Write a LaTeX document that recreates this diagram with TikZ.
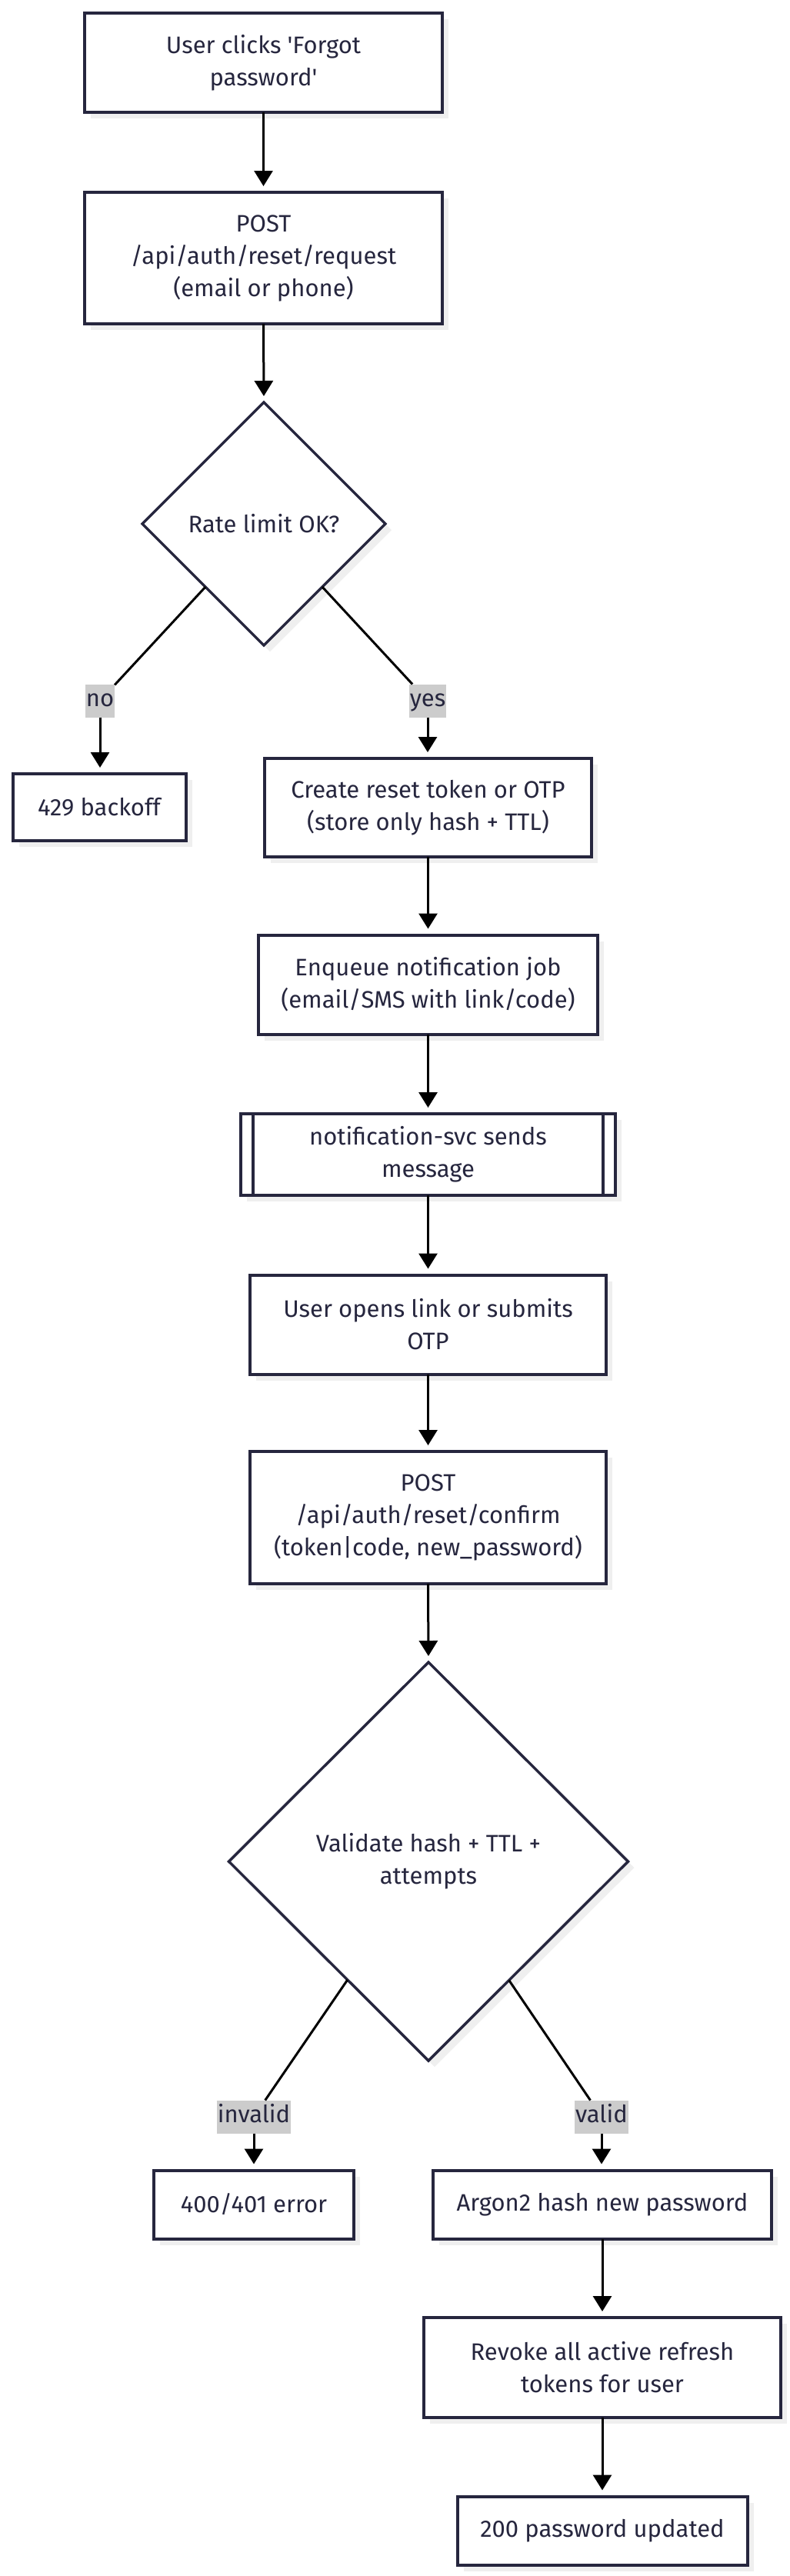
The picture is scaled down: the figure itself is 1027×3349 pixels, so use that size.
\documentclass[tikz,border=0pt]{standalone}
\usepackage{fontspec}
\setmainfont{Fira Sans}
\usetikzlibrary{shapes.geometric,arrows.meta,shadows}
\definecolor{ink}{RGB}{38,38,62}
\definecolor{lblc}{RGB}{204,204,204}
\definecolor{shd}{RGB}{239,239,239}
\tikzset{
  txt/.style={text=ink, font=\fontsize{31}{42}\selectfont, align=center},
  base/.style={txt, draw=ink, fill=white, inner sep=0pt, outer sep=0pt,
    drop shadow={shadow xshift=8pt, shadow yshift=-8pt, fill=shd, draw=none, opacity=1}},
  box/.style={base, rectangle, line width=4pt},
  dia/.style={base, diamond, line width=3.5pt},
  lbl/.style={txt, fill=lblc, inner xsep=1pt, inner ysep=0pt, outer sep=0pt,
    text height=22pt, text depth=7pt, minimum height=43pt},
  link/.style={draw=black, line width=3pt},
  arr/.style={link, -{Triangle[length=20pt,width=24pt]}, shorten >=8pt},
}
\begin{document}
\begin{tikzpicture}[x=1pt,y=-1pt]
\useasboundingbox (0,0) rectangle (1027,3349);

\node[box, minimum width=465pt, minimum height=129pt] (a) at (342.5,81.5) {User clicks \textquotesingle Forgot\\password\textquotesingle};
\node[box, minimum width=465pt, minimum height=171pt] (b) at (342.5,335.5) {POST\\/api/auth/reset/request\\(email or phone)};
\node[dia, minimum width=316pt, minimum height=316pt] (d1) at (343,681) {Rate limit OK?};
\node[box, minimum width=225pt, minimum height=87pt] (c) at (129,1049.5) {429 backoff};
\node[box, minimum width=425pt, minimum height=128pt] (e) at (556.5,1050) {Create reset token or OTP\\(store only hash + TTL)};
\node[box, minimum width=441pt, minimum height=129pt] (f) at (556.5,1280) {Enqueue notification job\\(email/SMS with link/code)};
\node[box, minimum width=487pt, minimum height=106pt] (g) at (556.5,1501) {notification-svc sends\\message};
\draw[ink, line width=4pt] ([xshift=16pt]g.north west) -- ([xshift=16pt]g.south west);
\draw[ink, line width=4pt] ([xshift=-16pt]g.north east) -- ([xshift=-16pt]g.south east);
\node[box, minimum width=463pt, minimum height=129pt] (h) at (556.5,1722) {User opens link or submits\\OTP};
\node[box, minimum width=463pt, minimum height=172pt] (i) at (556.5,1973) {POST\\/api/auth/reset/confirm\\(token|code, new\_password)};
\node[dia, minimum width=519pt, minimum height=518pt] (d2) at (557,2420) {Validate hash + TTL +\\attempts};
\node[box, minimum width=260pt, minimum height=89pt] (j) at (330,2866) {400/401 error};
\node[box, minimum width=440pt, minimum height=89pt] (k) at (783,2866) {Argon2 hash new password};
\node[box, minimum width=464pt, minimum height=130pt] (l) at (783,3078) {Revoke all active refresh\\tokens for user};
\node[box, minimum width=377pt, minimum height=89pt] (m) at (783,3290) {200 password updated};

\node[lbl] (no) at (130,911) {no};
\node[lbl] (yes) at (556,911) {yes};
\node[lbl] (inv) at (330,2752) {invalid};
\node[lbl] (val) at (782,2752) {valid};

\draw[arr] (a.south) -- (b.north);
\draw[arr] (b.south) -- (d1.north);
\draw[link] (d1) -- (no);
\draw[arr] (no.south) -- (no.south |- c.north);
\draw[link] (d1) -- (yes);
\draw[arr] (yes.south) -- (yes.south |- e.north);
\draw[arr] (e.south) -- (f.north);
\draw[arr] (f.south) -- (g.north);
\draw[arr] (g.south) -- (h.north);
\draw[arr] (h.south) -- (i.north);
\draw[arr] (i.south) -- (d2.north);
\draw[link] (d2) -- (inv);
\draw[arr] (inv.south) -- (inv.south |- j.north);
\draw[link] (d2) -- (val);
\draw[arr] (val.south) -- (val.south |- k.north);
\draw[arr] (k.south) -- (l.north);
\draw[arr] (l.south) -- (m.north);
\end{tikzpicture}
\end{document}
